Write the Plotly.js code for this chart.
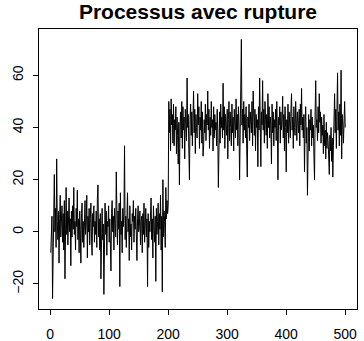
<!DOCTYPE html>
<html><head><meta charset="utf-8">
<script src="https://cdn.plot.ly/plotly-3.0.1.min.js"></script>
<style>html,body{margin:0;padding:0;background:#fff}#chart{width:364px;height:341px}</style>
</head><body><div id="chart"></div>
<script>
// Segment before the break (t = 1..200)
const seg1 = [
-8,-1,6,-25.6,-4,11,22,0,9,-6,
28,4,-3,8,-12,5,14,-2,2,10,
-4,7,-7,12,-18,4,17,-1,8,-5,
6,13,0,5,-13,8,-2,10,1,17,
-1,4,-7,9,2,16,-3,5,-8,8,
1,-12,7,11,-4,4,-6,6,12,-1,
3,14,-10,6,0,9,-5,5,11,-2,
-9,7,2,10,-4,4,-1,8,-6,13,
18,-2,5,-7,7,-18,4,9,-3,3,
-24,6,11,-1,8,-9,4,2,10,-4,
5,-6,-15,7,12,0,6,-7,9,3,
-2,23,5,-5,8,1,11,-21,15,-1,
4,-8,9,2,7,33,-3,6,-6,8,
15,0,5,-11,10,-2,3,-7,7,4,
12,-4,6,1,9,-3,-11,5,10,0,
2,8,-5,4,6,-8,7,-1,11,-4,
3,9,-2,5,-21,7,-6,4,0,8,
13,-3,5,-10,10,2,-4,6,-19,9,
-1,4,11,-5,7,1,14,-7,6,-23,
20,-2,8,4,-6,17,5,12,7,10
];
// Segment after the break (t = 201..500)
const seg2 = [
50,38,47,31,51,41,45,34,49,33,
43,39,48,30,44,37,26,42,18,40,
46,36,50,32,48,39,44,28,47,41,
35,59,40,45,31,20,43,49,37,46,
33,42,54,38,47,30,45,40,36,53,
41,48,32,44,39,50,34,46,29,33,
43,38,49,35,45,41,54,39,47,32,
44,37,50,40,43,31,48,36,45,39,
42,33,47,38,17,41,46,34,49,40,
44,36,57,39,48,32,45,41,37,47,
28,43,50,35,46,40,33,49,38,44,
31,47,41,36,51,39,45,33,48,42,
20,43,38,73.8,41,47,34,50,39,45,
36,48,32,21,44,40,49,35,46,41,
38,50,33,54,42,37,47,31,45,40,
43,25,48,39,59,36,25,46,41,58,
39,47,34,50,42,37,45,32,53,40,
48,36,44,41,26,49,38,46,33,43,
40,47,35,50,39,20,44,41,48,34,
46,39,43,52,36,45,31,48,40,23,
43,38,49,34,46,41,36,47,53,39,
44,32,48,40,37,50,42,35,46,41,
38,47,33,49,41,55,39,44,36,45,
23,42,48,34,40,14,37,45,31,43,
39,47,33,44,36,41,29,20,46,58,
40,43,35,48,38,53,42,46,34,44,
37,41,30,45,33,39,28,42,32,38,
35,29,22,37,31,40,27,36,21,33,
41,53,38,47,32,44,61,39,46,33,
49,37,62,28,45,41,34,47,50,40
];
const series = seg1.concat(seg2);
const timeIndex = series.map((_, k) => k + 1);
const xTicks = [0, 100, 200, 300, 400, 500];
const yTicks = [-20, 0, 20, 40, 60];
const titleText = "Processus avec rupture";

const font = "Liberation Sans, Arial, Helvetica, sans-serif";
const trace = {
  x: timeIndex, y: series, type: "scatter", mode: "lines",
  line: {color: "#000", width: 1}, hoverinfo: "skip"
};
const layout = {
  width: 364, height: 341,
  margin: {l: 39, r: 7, t: 29, b: 32, pad: 0},
  paper_bgcolor: "#fff", plot_bgcolor: "#fff",
  showlegend: false,
  title: {text: "<b>" + titleText + "</b>", font: {family: font, size: 21, color: "#000"},
          x: 0.5, xanchor: "center", xref: "paper", y: 1, yref: "container", yanchor: "top", pad: {t: 4}},
  xaxis: {range: [-18.96, 519.96], tickvals: xTicks, ticktext: xTicks.map(String),
          showgrid: false, zeroline: false, showline: true, mirror: true, linecolor: "#000", linewidth: 1,
          ticks: "outside", ticklen: 5, tickwidth: 1, tickcolor: "#000", ticklabelstandoff: 7,
          tickfont: {family: font, size: 14, color: "#000"}},
  yaxis: {range: [-29.6, 77.8], tickvals: yTicks, ticktext: yTicks.map(v => v < 0 ? "\u2212" + Math.abs(v) : String(v)),
          showgrid: false, zeroline: false, showline: true, mirror: true, linecolor: "#000", linewidth: 1,
          ticks: "outside", ticklen: 5, tickwidth: 1, tickcolor: "#000", tickangle: -90, ticklabelstandoff: 4,
          tickfont: {family: font, size: 14, color: "#000"}}
};
Plotly.newPlot("chart", [trace], layout, {staticPlot: true, displayModeBar: false});
</script></body></html>
